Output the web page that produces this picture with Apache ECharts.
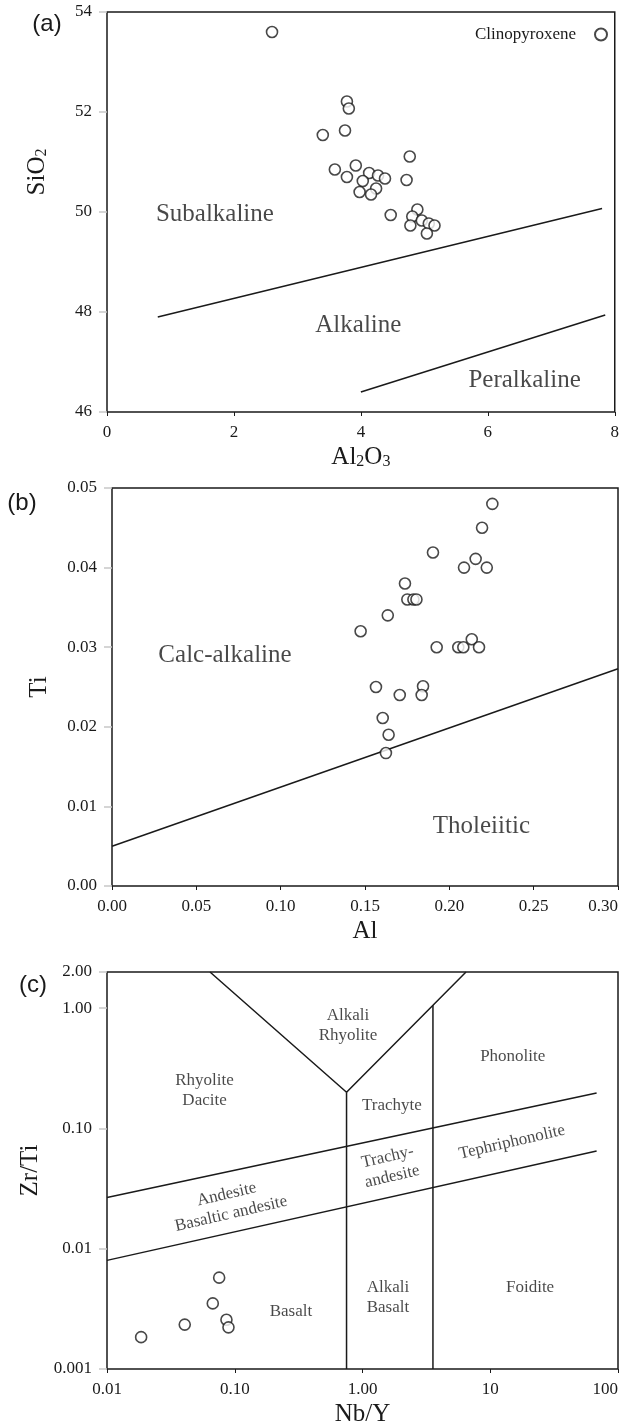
<!DOCTYPE html>
<html>
<head>
<meta charset="utf-8">
<script src="https://cdn.jsdelivr.net/npm/echarts@6/dist/echarts.min.js"></script>
<style>
  html, body { margin: 0; padding: 0; background: #fff; }
  #chart { width: 622px; height: 1428px; }
</style>
</head>
<body>
<div id="chart"></div>
<script>
// ---------- (a) Al2O3 vs SiO2 in clinopyroxene ----------
const aAl2O3 = [2.60, 3.78, 3.81, 3.40, 3.75, 4.77, 3.59, 3.92, 3.78, 4.13, 4.27, 4.38, 4.03,
                4.72, 4.24, 3.98, 4.16, 4.47, 4.89, 4.81, 4.96, 4.78, 5.07, 5.16, 5.04];
const aSiO2  = [53.60, 52.21, 52.07, 51.54, 51.63, 51.11, 50.85, 50.93, 50.70, 50.78, 50.73, 50.67, 50.62,
                50.64, 50.47, 50.40, 50.35, 49.94, 50.05, 49.91, 49.83, 49.73, 49.77, 49.73, 49.57];
const aTicksX = [0, 2, 4, 6, 8];
const aTicksY = [46, 48, 50, 52, 54];
// field boundaries (Al2O3, SiO2)
const aSubalkalineX = [0.8, 7.8];
const aSubalkalineY = [47.9, 50.07];
const aPeralkalineX = [4.0, 7.85];
const aPeralkalineY = [46.4, 47.94];
const aFieldNames = ['Subalkaline', 'Alkaline', 'Peralkaline'];
const aFieldX = [1.7, 3.96, 6.58];
const aFieldY = [49.95, 47.74, 46.64];

// ---------- (b) Al vs Ti ----------
const bAl = [0.2255, 0.2194, 0.1903, 0.2156, 0.2087, 0.2222, 0.1737, 0.1751, 0.1787, 0.1805, 0.1635, 0.1474,
             0.1925, 0.2053, 0.2083, 0.2133, 0.2176, 0.1565, 0.1706, 0.1844, 0.1836, 0.1605, 0.1640, 0.1624];
const bTi = [0.0480, 0.0450, 0.0419, 0.0411, 0.0400, 0.0400, 0.0380, 0.0360, 0.0360, 0.0360, 0.0340, 0.0320,
             0.0300, 0.0300, 0.0300, 0.0310, 0.0300, 0.0250, 0.0240, 0.0251, 0.0240, 0.0211, 0.0190, 0.0167];
const bTicksX = [0, 0.05, 0.10, 0.15, 0.20, 0.25, 0.30];
const bTicksY = [0, 0.01, 0.02, 0.03, 0.04, 0.05];
const bDividerX = [0, 0.30];
const bDividerY = [0.005, 0.0273];
const bFieldNames = ['Calc-alkaline', 'Tholeiitic'];
const bFieldX = [0.067, 0.219];
const bFieldY = [0.029, 0.0075];

// ---------- (c) Nb/Y vs Zr/Ti (log-log) ----------
const cNbY  = [0.0185, 0.0406, 0.0673, 0.0861, 0.0893, 0.0755];
const cZrTi = [0.00184, 0.00234, 0.00351, 0.00257, 0.00222, 0.00575];
const cTicksX = [0.01, 0.1, 1, 10, 100];
const cTicksY = [0.001, 0.01, 0.1, 1, 2];
const cVeeX = [0.064, 0.75, 6.46];
const cVeeY = [2, 0.2, 2];
const cLeftVertX = [0.75, 0.75];
const cLeftVertY = [0.2, 0.001];
const cRightVertX = [3.56, 3.56];
const cRightVertY = [1.057, 0.001];
const cUpperX = [0.01, 68];
const cUpperY = [0.0267, 0.197];
const cLowerX = [0.01, 68];
const cLowerY = [0.008, 0.065];
const cFieldNames = ['Alkali\nRhyolite', 'Phonolite', 'Rhyolite\nDacite', 'Trachyte', 'Tephriphonolite',
                     'Trachy-\nandesite', 'Andesite\nBasaltic andesite', 'Alkali\nBasalt', 'Foidite', 'Basalt'];
const cFieldX = [0.77, 15, 0.058, 1.70, 14.8, 1.64, 0.090, 1.58, 20.5, 0.275];
const cFieldY = [0.72, 0.40, 0.206, 0.155, 0.077, 0.048, 0.0235, 0.0039, 0.0048, 0.0030];
const cFieldTilt = [0, 0, 0, 0, 13, 13, 13, 0, 0, 0];

// ---------- shared styling ----------
const SERIF = '"Liberation Serif", "Times New Roman", serif';
const SANS = '"Liberation Sans", Arial, sans-serif';
const INK = '#1a1a1a';

const pairs = (xs, ys) => xs.map((x, i) => [x, ys[i]]);

function samples(xi, yi, xs, ys) {
  return {
    type: 'scatter', name: 'Clinopyroxene', xAxisIndex: xi, yAxisIndex: yi,
    data: pairs(xs, ys), symbol: 'circle', symbolSize: 11,
    itemStyle: { color: '#fff', borderColor: INK, borderWidth: 1.6 },
    z: 5
  };
}

function boundary(xi, yi, xs, ys) {
  return {
    type: 'line', xAxisIndex: xi, yAxisIndex: yi, data: pairs(xs, ys),
    symbol: 'none', silent: true, lineStyle: { color: INK, width: 1.5 }, z: 3
  };
}

function fieldLabels(xi, yi, names, xs, ys, fontSize, tilt) {
  return {
    type: 'scatter', xAxisIndex: xi, yAxisIndex: yi, silent: true,
    symbolSize: 1, itemStyle: { color: 'rgba(0,0,0,0)' },
    data: names.map((n, i) => ({ value: [xs[i], ys[i]], name: n,
                                 label: { rotate: tilt ? tilt[i] : 0 } })),
    label: { show: true, position: 'inside', formatter: '{b}', fontFamily: SERIF,
             fontSize: fontSize, color: INK, lineHeight: Math.round(fontSize * 1.18) },
    z: 4
  };
}

const tickLabel = { fontFamily: SERIF, fontSize: 17, color: INK };
function titleStyle(extra) {
  return Object.assign({ fontFamily: SERIF, fontSize: 25, color: INK,
    rich: { s: { fontFamily: SERIF, fontSize: 16, color: INK, verticalAlign: 'bottom' } } }, extra || {});
}
const yTick = { show: true, length: 8, lineStyle: { color: '#c8c8c8', width: 1.5 } };
const xTick = { show: true, length: 4, lineStyle: { color: INK, width: 1 } };

function fixed2(v) { return (+v).toFixed(2); }

const option = {
  animation: false,
  backgroundColor: '#fff',
  grid: [
    { left: 107, right: 4, top: 12, height: 400, show: true, borderColor: INK, borderWidth: 1.5 },
    { left: 112, right: 4, top: 488, height: 398, show: true, borderColor: INK, borderWidth: 1.5 },
    { left: 107, right: 4, top: 972, height: 400, show: true, borderColor: INK, borderWidth: 1.5 }
  ],
  legend: {
    data: ['Clinopyroxene'], right: 14, top: 26, align: 'right', padding: 0,
    itemWidth: 12, itemHeight: 12, selectedMode: false,
    textStyle: { fontFamily: SERIF, fontSize: 17, color: INK, padding: [0, 14, 0, 0] }
  },
  xAxis: [
    { gridIndex: 0, type: 'value', min: aTicksX[0], max: aTicksX[aTicksX.length - 1],
      interval: aTicksX[1] - aTicksX[0],
      axisLine: { show: false }, axisTick: xTick, splitLine: { show: false },
      axisLabel: Object.assign({ margin: 12 }, tickLabel),
      name: 'Al{s|2}O{s|3}', nameLocation: 'middle', nameGap: 33, nameTextStyle: titleStyle() },
    { gridIndex: 1, type: 'value', min: bTicksX[0], max: bTicksX[bTicksX.length - 1],
      interval: 0.05,
      axisLine: { show: false }, axisTick: xTick, splitLine: { show: false },
      axisLabel: Object.assign({ margin: 12, formatter: fixed2, alignMaxLabel: 'right' }, tickLabel),
      name: 'Al', nameLocation: 'middle', nameGap: 33, nameTextStyle: titleStyle() },
    { gridIndex: 2, type: 'log', logBase: 10, min: cTicksX[0], max: cTicksX[cTicksX.length - 1],
      axisLine: { show: false }, axisTick: xTick, splitLine: { show: false }, minorTick: { show: false },
      axisLabel: Object.assign({ margin: 12, alignMaxLabel: 'right',
        formatter: v => (v < 10 ? (+v).toFixed(2) : String(Math.round(v))) }, tickLabel),
      name: 'Nb/Y', nameLocation: 'middle', nameGap: 33, nameTextStyle: titleStyle() }
  ],
  yAxis: [
    { gridIndex: 0, type: 'value', min: aTicksY[0], max: aTicksY[aTicksY.length - 1],
      interval: aTicksY[1] - aTicksY[0],
      axisLine: { show: false }, axisTick: yTick, splitLine: { show: false },
      axisLabel: Object.assign({ margin: 15 }, tickLabel),
      name: 'SiO{s|2}', nameLocation: 'middle', nameGap: 57,
      nameTextStyle: titleStyle({ padding: [0, 0, 0, 80] }) },
    { gridIndex: 1, type: 'value', min: bTicksY[0], max: bTicksY[bTicksY.length - 1],
      interval: 0.01,
      axisLine: { show: false }, axisTick: yTick, splitLine: { show: false },
      axisLabel: Object.assign({ margin: 15, formatter: fixed2 }, tickLabel),
      name: 'Ti', nameLocation: 'middle', nameGap: 60, nameTextStyle: titleStyle() },
    { gridIndex: 2, type: 'log', logBase: 10, min: cTicksY[0], max: cTicksY[cTicksY.length - 1],
      axisLine: { show: false }, axisTick: yTick, splitLine: { show: false }, minorTick: { show: false },
      axisLabel: Object.assign({ margin: 15,
        formatter: v => (v >= 0.1 ? (+v).toFixed(2) : String(+(+v).toPrecision(1))) }, tickLabel),
      name: 'Zr/Ti', nameLocation: 'middle', nameGap: 55, nameTextStyle: titleStyle() }
  ],
  graphic: [
    { type: 'text', x: 47, y: 24, style: { text: '(a)', font: '24px ' + SANS, fill: INK,
      align: 'center', verticalAlign: 'middle', textAlign: 'center', textVerticalAlign: 'middle' } },
    { type: 'text', x: 22, y: 503, style: { text: '(b)', font: '24px ' + SANS, fill: INK,
      align: 'center', verticalAlign: 'middle', textAlign: 'center', textVerticalAlign: 'middle' } },
    { type: 'text', x: 33, y: 985, style: { text: '(c)', font: '24px ' + SANS, fill: INK,
      align: 'center', verticalAlign: 'middle', textAlign: 'center', textVerticalAlign: 'middle' } }
  ],
  series: [
    boundary(0, 0, aSubalkalineX, aSubalkalineY),
    boundary(0, 0, aPeralkalineX, aPeralkalineY),
    fieldLabels(0, 0, aFieldNames, aFieldX, aFieldY, 25),
    samples(0, 0, aAl2O3, aSiO2),

    boundary(1, 1, bDividerX, bDividerY),
    fieldLabels(1, 1, bFieldNames, bFieldX, bFieldY, 25),
    samples(1, 1, bAl, bTi),

    boundary(2, 2, cVeeX, cVeeY),
    boundary(2, 2, cLeftVertX, cLeftVertY),
    boundary(2, 2, cRightVertX, cRightVertY),
    boundary(2, 2, cUpperX, cUpperY),
    boundary(2, 2, cLowerX, cLowerY),
    fieldLabels(2, 2, cFieldNames, cFieldX, cFieldY, 17, cFieldTilt),
    samples(2, 2, cNbY, cZrTi)
  ]
};

const chart = echarts.init(document.getElementById('chart'), null, { renderer: 'canvas' });
chart.setOption(option);
</script>
</body>
</html>
